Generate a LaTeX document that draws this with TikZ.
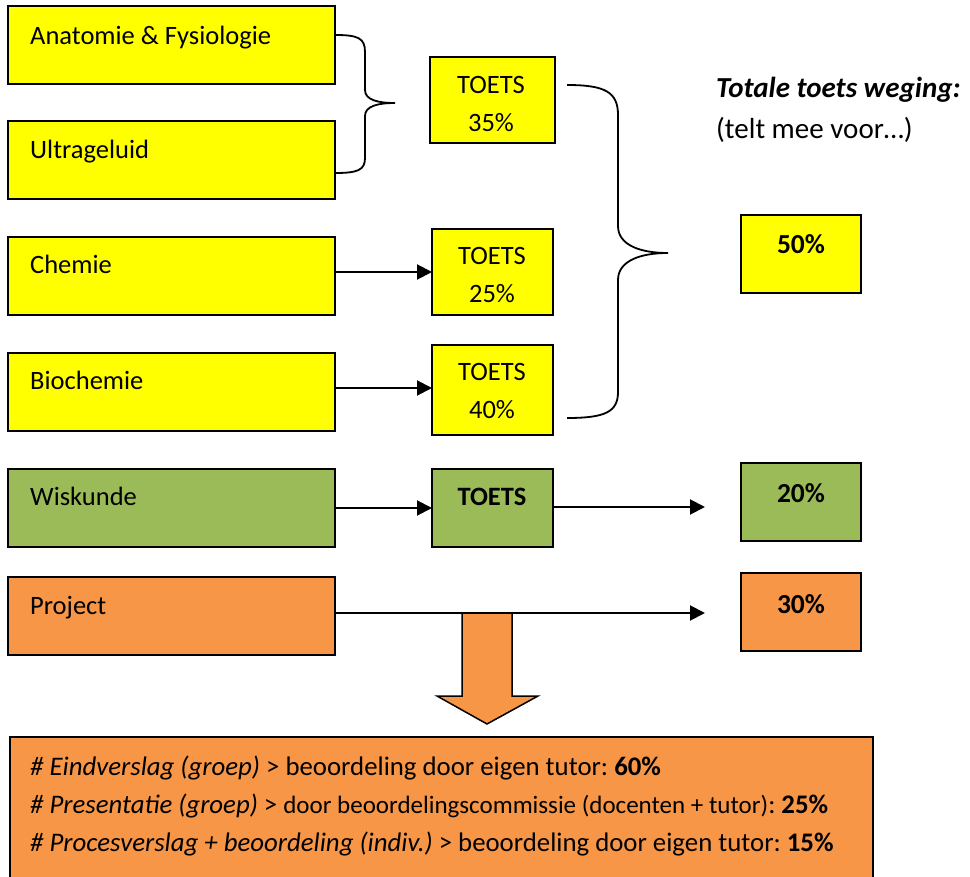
\documentclass[tikz,border=0pt]{standalone}
\usepackage{fontspec}
\setmainfont{Carlito}
\usetikzlibrary{arrows.meta}
\definecolor{cyel}{HTML}{FFFF00}
\definecolor{cgrn}{HTML}{9BBB59}
\definecolor{corg}{HTML}{F79646}
\frenchspacing
\tikzset{
  box/.style={draw=black, line width=1.5pt, fill=#1, inner sep=0pt, outer sep=0pt, anchor=north west},
  lbl/.style={inner sep=0pt, font=\fontsize{26.5}{31}\selectfont},
  big/.style={inner sep=0pt, font=\fontsize{29}{34}\selectfont},
  arr/.style={line width=2pt, -{Triangle[length=15pt,width=15pt]}},
  brace/.style={line width=1.8pt},
}
\begin{document}
\begin{tikzpicture}[x=1pt,y=-1pt]
\clip (0,0) rectangle (970,877);
\fill[white] (0,0) rectangle (970,877);
% left boxes
\node[box=cyel, minimum width=327pt, minimum height=78pt] (anat) at (8,6) {};
\node[box=cyel, minimum width=327pt, minimum height=78pt] (ultra) at (8,121) {};
\node[box=cyel, minimum width=327pt, minimum height=78pt] (chem) at (8,237) {};
\node[box=cyel, minimum width=327pt, minimum height=78pt] (bioc) at (8,353) {};
\node[box=cgrn, minimum width=327pt, minimum height=78pt] (wisk) at (8,469) {};
\node[box=corg, minimum width=327pt, minimum height=78pt] (proj) at (8,577) {};
\node[lbl, anchor=base west] (anatT) at (30,45) {Anatomie \& Fysiologie};
\node[lbl, anchor=base west] (ultraT) at (30,159) {Ultrageluid};
\node[lbl, anchor=base west] (chemT) at (30,274) {Chemie};
\node[lbl, anchor=base west] (biocT) at (30,390) {Biochemie};
\node[lbl, anchor=base west] (wiskT) at (30,505) {Wiskunde};
\node[lbl, anchor=base west] (projT) at (30,614) {Project};
% toets boxes
\node[box=cyel, minimum width=125pt, minimum height=86pt] (t35) at (430,57) {};
\node[box=cyel, minimum width=121pt, minimum height=86pt] (t25) at (432,229) {};
\node[box=cyel, minimum width=121pt, minimum height=90pt] (t40) at (432,345) {};
\node[box=cgrn, minimum width=121pt, minimum height=78pt] (tw) at (432,469) {};
\node[lbl, anchor=base] (t35a) at (491,94) {TOETS};
\node[lbl, anchor=base] (t35b) at (491,132) {35\%};
\node[lbl, anchor=base] (t25a) at (492,265) {TOETS};
\node[lbl, anchor=base] (t25b) at (492,303) {25\%};
\node[lbl, anchor=base] (t40a) at (492,381) {TOETS};
\node[lbl, anchor=base] (t40b) at (492,419) {40\%};
\node[lbl, anchor=base, font=\fontsize{26.5}{31}\selectfont\bfseries] (twa) at (492,505) {TOETS};
% result boxes
\node[box=cyel, minimum width=120pt, minimum height=78pt] (r50) at (741,215) {};
\node[box=cgrn, minimum width=120pt, minimum height=78pt] (r20) at (741,463) {};
\node[box=corg, minimum width=120pt, minimum height=78pt] (r30) at (741,573) {};
\node[lbl, anchor=base, font=\fontsize{27.5}{31}\selectfont\bfseries] (r50T) at (801,254) {50\%};
\node[lbl, anchor=base, font=\fontsize{27.5}{31}\selectfont\bfseries] (r20T) at (801,502) {20\%};
\node[lbl, anchor=base, font=\fontsize{27.5}{31}\selectfont\bfseries] (r30T) at (801,613) {30\%};
\node[big, anchor=base west, font=\fontsize{29}{34}\selectfont\bfseries\itshape] (tot) at (716,98) {Totale toets weging:};
\node[big, anchor=base west] (telt) at (716,139) {(telt mee voor…)};
% braces
\draw[brace] (335,35) .. controls (358,35) and (365,38) .. (365,52) -- (365,90)
  .. controls (365,100) and (378,103) .. (395,103)
  .. controls (378,103) and (365,106) .. (365,116) -- (365,158)
  .. controls (365,170) and (358,173) .. (335,173);
\draw[brace] (567,85) .. controls (605,85) and (618,92) .. (618,115) -- (618,226)
  .. controls (618,245) and (640,253) .. (668,253)
  .. controls (640,253) and (618,261) .. (618,280) -- (618,392)
  .. controls (618,412) and (605,418) .. (567,418);
% arrows
\coordinate (e20) at (705,507);
\coordinate (e30) at (705,613);
\draw[arr] (chem.east |- t25.west) -- (t25.west);
\draw[arr] (bioc.east |- 0,388) -- (t40.west |- 0,388);
\draw[arr] (wisk.east |- tw.west) -- (tw.west);
\draw[arr] (tw.east |- e20) -- (e20);
% big down arrow
\draw[line width=1.5pt, fill=corg, line join=miter] (462,613) -- (512,613) -- (512,696) -- (538,696) -- (487,724) -- (437,696) -- (462,696) -- cycle;
\draw[arr] (proj.east |- e30) -- (e30);
% bottom box
\node[box=corg, minimum width=863pt, minimum height=160pt] (detail) at (10,737) {};
\node[lbl, anchor=base west, font=\fontsize{26.8}{31}\selectfont] (d1) at (30,775) {\textit{\# Eindverslag (groep)} > beoordeling door eigen tutor: \textbf{60\%}};
\node[lbl, anchor=base west, font=\fontsize{26.8}{31}\selectfont] (d2) at (30,813) {\textit{\# Presentatie (groep)} > {\fontsize{25}{28}\selectfont door beoordelingscommissie (docenten + tutor)}: \textbf{25\%}};
\node[lbl, anchor=base west, font=\fontsize{26.8}{31}\selectfont] (d3) at (30,851) {\textit{\# Procesverslag + beoordeling (indiv.)} > beoordeling door eigen tutor: \textbf{15\%}};
\end{tikzpicture}
\end{document}
